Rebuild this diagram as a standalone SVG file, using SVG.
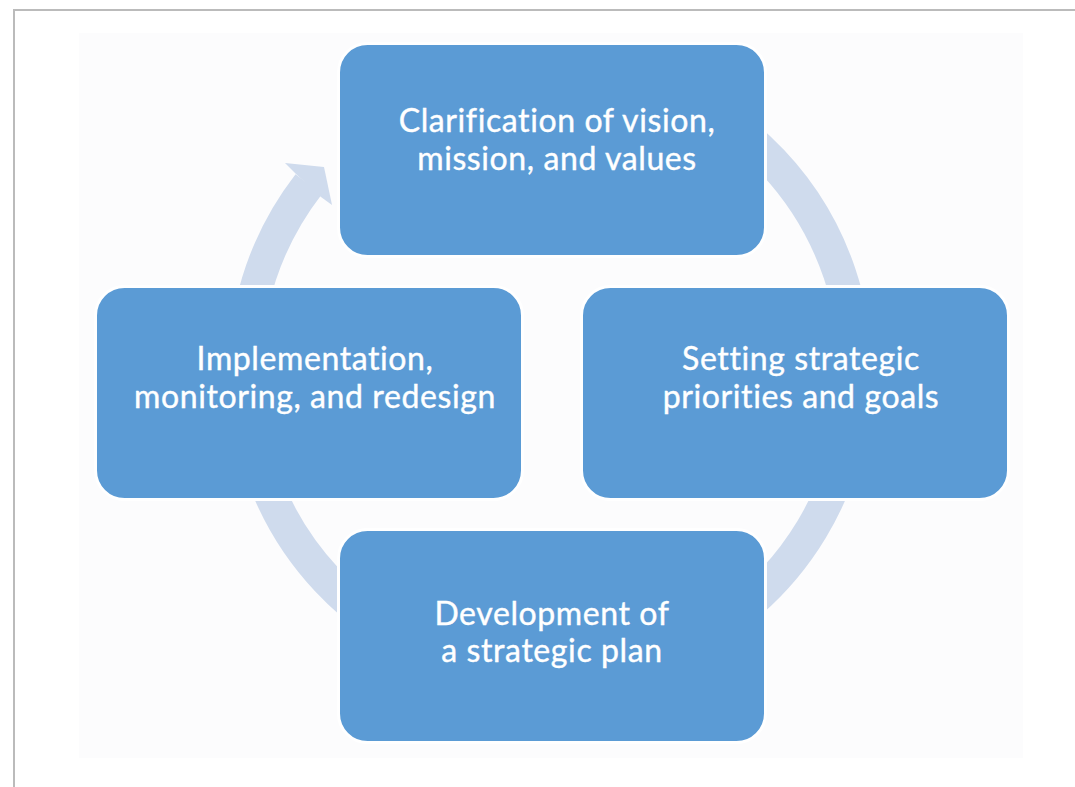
<svg xmlns="http://www.w3.org/2000/svg" width="1075" height="787" viewBox="0 0 1075 787">
<style>
.box{fill:#5b9bd5;stroke:#ffffff;stroke-width:3}
.lbl{fill:#ffffff;stroke:#ffffff;stroke-width:0.4px;font-family:Lato,"Open Sans","Liberation Sans",sans-serif;font-size:32px;letter-spacing:0.6px;text-anchor:middle;font-variant-ligatures:none;font-feature-settings:"liga" 0,"clig" 0}
.ring{fill:none;stroke:#cfdbed;stroke-width:33}
.head{fill:#cfdbed}
</style>
<rect x="0" y="0" width="1075" height="787" fill="#ffffff"/>
<path d="M14 787 V10 H1075" fill="none" stroke="#bbbbbb" stroke-width="2"/>
<rect x="79" y="33" width="944" height="725" fill="#fcfcfd"/>
<g id="connectors">
<path class="ring" d="M498.95 70.14 A305.5 305.5 0 1 1 308.6 184.3"/>
<polygon class="head" points="296,174 285,163 324,167 332,205 321,197"/>
</g>
<g id="node-vision">
<rect class="box" x="338.5" y="43.5" width="427" height="213" rx="29"/>
<text class="lbl" x="557" y="132">Clarification of vision,</text>
<text class="lbl" x="557" y="170">mission, and values</text>
</g>
<g id="node-priorities">
<rect class="box" x="581.5" y="286.5" width="427" height="213" rx="29"/>
<text class="lbl" x="801" y="370">Setting strategic</text>
<text class="lbl" x="801" y="408">priorities and goals</text>
</g>
<g id="node-plan">
<rect class="box" x="338.5" y="529.5" width="427" height="213" rx="29"/>
<text class="lbl" x="552" y="625">Development of</text>
<text class="lbl" x="552" y="662">a strategic plan</text>
</g>
<g id="node-implementation">
<rect class="box" x="95.5" y="286.5" width="427" height="213" rx="29"/>
<text class="lbl" x="315" y="370">Implementation,</text>
<text class="lbl" x="315" y="408">monitoring, and redesign</text>
</g>
</svg>
